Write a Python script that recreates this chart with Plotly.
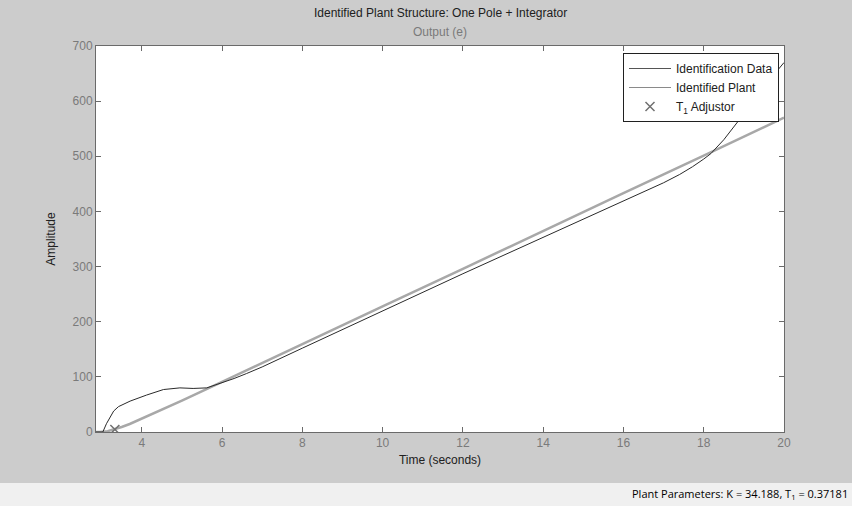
import plotly.graph_objects as go

# Identification data (measured response)
data_t = [2.86, 3.03, 3.12, 3.21, 3.3, 3.42, 3.71, 4.12, 4.54, 4.95, 5.28, 5.62, 5.95,
          6.3, 6.61, 7, 8, 9, 10, 11, 12, 13, 14, 15, 16, 16.5, 17, 17.4, 17.72, 18,
          18.18, 18.5, 18.96, 19.3, 19.6, 20]
data_y = [0, 0, 15, 28, 38, 46, 56, 67, 77, 80, 79, 80, 88,
          97, 106, 118, 152, 186, 220, 253, 287, 320, 353, 386, 418, 435, 452, 467, 481, 495,
          505, 530, 572, 605, 635, 670]

# Identified plant response
plant_t = [2.86, 2.96, 3.15, 3.33, 3.5, 3.7, 4, 4.5, 5, 6, 8, 10, 12, 14, 16, 18, 20]
plant_y = [0, 0, 1.5, 4.7, 9, 14.5, 24, 40, 57, 91, 160, 228, 296, 365, 433, 501, 570]

# T1 adjustor marker
adj_t = [3.33]
adj_y = [4.7]

x_ticks = [4, 6, 8, 10, 12, 14, 16, 18, 20]
y_ticks = [0, 100, 200, 300, 400, 500, 600, 700]

FONT = "Liberation Sans"

fig = go.Figure()
fig.add_trace(go.Scatter(x=plant_t, y=plant_y, mode="lines",
                         line=dict(color="#a8a8a8", width=2.5), showlegend=False, hoverinfo="skip"))
fig.add_trace(go.Scatter(x=data_t, y=data_y, mode="lines",
                         line=dict(color="#2a2a2a", width=1), showlegend=False))
fig.add_trace(go.Scatter(x=adj_t, y=adj_y, mode="markers",
                         marker=dict(symbol="x-thin", size=9, line=dict(color="#707070", width=1.5)),
                         showlegend=False))
# legend entries
fig.add_trace(go.Scatter(x=[None], y=[None], mode="lines", name="Identification Data",
                         line=dict(color="#555555", width=1)))
fig.add_trace(go.Scatter(x=[None], y=[None], mode="lines", name="Identified Plant",
                         line=dict(color="#8a8a8a", width=1)))
fig.add_trace(go.Scatter(x=[None], y=[None], mode="markers", name="T<sub>1</sub> Adjustor",
                         marker=dict(symbol="x-thin", size=9, line=dict(color="#707070", width=1.5))))

W, H = 852, 506
L, R, T, B = 96, 68, 46, 74
ph = H - T - B
pw = W - L - R

axis_common = dict(showline=True, linecolor="#6a6a6a", linewidth=1, mirror="ticks",
                   ticks="inside", ticklen=5, tickcolor="#6a6a6a", showgrid=False,
                   zeroline=False, tickfont=dict(family=FONT, size=12, color="#7a7a7a"))

fig.update_layout(
    width=W, height=H,
    margin=dict(l=L, r=R, t=T, b=B, pad=0),
    paper_bgcolor="#cccccc", plot_bgcolor="#ffffff",
    font=dict(family=FONT, size=12, color="#202020"),
    xaxis=dict(range=[2.86, 20], tickvals=x_ticks, ticktext=[str(v) for v in x_ticks],
               title=dict(text="Time (seconds)", font=dict(family=FONT, size=12, color="#202020"), standoff=6),
               **axis_common),
    yaxis=dict(range=[0, 700], tickvals=y_ticks, ticktext=[str(v) for v in y_ticks],
               title=dict(text="Amplitude", font=dict(family=FONT, size=12, color="#202020"), standoff=14),
               **axis_common),
    legend=dict(x=(623 - L) / pw, y=(H - B - 53) / ph, xanchor="left", yanchor="top",
                bgcolor="#ffffff", bordercolor="#202020", borderwidth=1,
                font=dict(family=FONT, size=12, color="#202020"),
                tracegroupgap=0, itemwidth=42),
    showlegend=True,
    shapes=[dict(type="rect", xref="paper", yref="paper", x0=-L / pw, x1=1 + R / pw,
                 y0=-(483 - (H - B)) / ph, y1=-(H - (H - B)) / ph,
                 fillcolor="#f0f0f0", line=dict(width=0), layer="below")],
    annotations=[
        dict(text="Identified Plant Structure: One Pole + Integrator", xref="paper", yref="paper",
             x=0.5, y=(H - B - 13) / ph, xanchor="center", yanchor="middle", showarrow=False,
             font=dict(family=FONT, size=12, color="#202020")),
        dict(text="Output (e)", xref="paper", yref="paper",
             x=0.5, y=(H - B - 32) / ph, xanchor="center", yanchor="middle", showarrow=False,
             font=dict(family=FONT, size=12, color="#7a7a7a")),
        dict(text="Plant Parameters: K = 34.188, T<sub>1</sub> = 0.37181", xref="paper", yref="paper",
             x=1 + (850 - (W - R)) / pw, y=-(494 - (H - B)) / ph, xanchor="right", yanchor="middle",
             showarrow=False, font=dict(family="Open Sans", size=11, color="#000000")),
    ],
)

fig.write_html("out.html", config={"displayModeBar": False},
               post_script="document.body.style.margin='0px';document.body.style.overflow='hidden';")
